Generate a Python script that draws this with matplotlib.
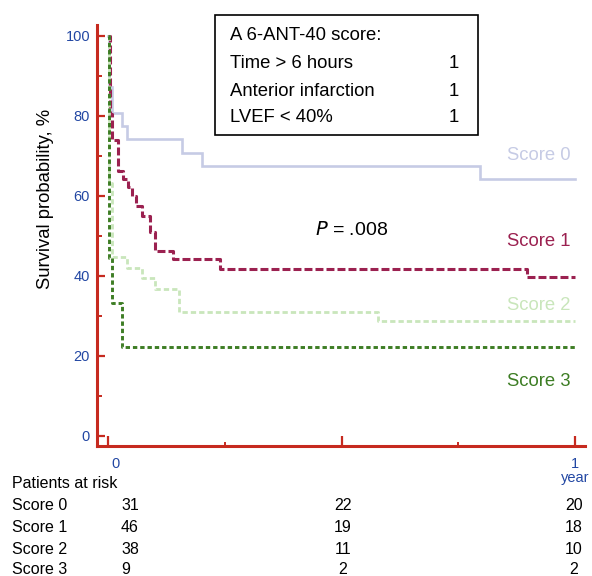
import matplotlib

matplotlib.use("Agg")
import matplotlib.pyplot as plt
from matplotlib.patches import Rectangle
from matplotlib.ticker import MultipleLocator, FixedLocator
import matplotlib.transforms as mtransforms

plt.rcParams["font.family"] = ["Liberation Sans", "DejaVu Sans"]

# Kaplan-Meier step curves (time in years, survival in %)
score0_t = [0, 0.003, 0.008, 0.029, 0.040, 0.159, 0.202, 0.797, 1.0]
score0_s = [100, 87.1, 80.6, 77.4, 74.2, 70.8, 67.4, 64.2, 64.2]

score1_t = [0, 0.004, 0.008, 0.022, 0.033, 0.042, 0.051, 0.061, 0.072,
            0.090, 0.101, 0.140, 0.240, 0.897, 1.0]
score1_s = [100, 80.4, 73.9, 66.3, 64.2, 62.1, 60.0, 57.5, 55.0,
            50.9, 46.3, 44.3, 41.8, 39.8, 39.8]

score2_t = [0, 0.003, 0.008, 0.040, 0.072, 0.101, 0.151, 0.579, 1.0]
score2_s = [100, 63.2, 44.7, 42.1, 39.5, 36.8, 31.0, 28.7, 28.7]

score3_t = [0, 0.003, 0.009, 0.029, 1.0]
score3_s = [100, 44.4, 33.3, 22.2, 22.2]

group_names = ["Score 0", "Score 1", "Score 2", "Score 3"]
risk_start = [31, 46, 38, 9]
risk_half = [22, 19, 11, 2]
risk_end = [20, 18, 10, 2]

legend_rows = [("Time > 6 hours", "1"), ("Anterior infarction", "1"), ("LVEF < 40%", "1")]

RED = "#c62a1f"
BLUE = "#2247a3"
C0 = "#c6cbe5"
C1 = "#9b2150"
C2 = "#c9e6bb"
C3 = "#3d7d24"

W, H = 592, 576
fig = plt.figure(figsize=(W / 100, H / 100), dpi=100)
ax = fig.add_axes([97 / W, 1 - 446 / H, (585 - 97) / W, (446 - 25) / H])

ax.step(score0_t, score0_s, where="post", color=C0, lw=1.9, solid_joinstyle="miter")
ax.step(score1_t, score1_s, where="post", color=C1, lw=2.2, linestyle=(0, (2.6, 1.0)))
ax.step(score2_t, score2_s, where="post", color=C2, lw=2.0, linestyle=(0, (1.9, 1.1)))
ax.step(score3_t, score3_s, where="post", color=C3, lw=2.1, linestyle=(0, (1.5, 1.0)))

ax.set_xlim((97 - 108) / 467, (585 - 108) / 467)
ax.set_ylim(-2.5, 102.7)

for side in ["top", "right"]:
    ax.spines[side].set_visible(False)
for side in ["left", "bottom"]:
    ax.spines[side].set_color(RED)
    ax.spines[side].set_linewidth(2.2)

ax.yaxis.set_major_locator(MultipleLocator(20))
ax.yaxis.set_minor_locator(MultipleLocator(10))
ax.tick_params(axis="y", which="major", direction="in", length=6, width=1.6,
               color=RED, labelcolor=BLUE, labelsize=10.5, pad=5)
ax.tick_params(axis="y", which="minor", direction="in", length=3.5, width=1.4, color=RED)

ax.xaxis.set_major_locator(FixedLocator([0, 0.5, 1]))
ax.xaxis.set_minor_locator(FixedLocator([0.25, 0.75]))
ax.set_xticklabels(["0", "", "1\nyear"], linespacing=0.95)
ax.tick_params(axis="x", which="major", direction="in", length=7, width=1.6,
               color=RED, labelcolor=BLUE, labelsize=10.5, pad=8)
ax.tick_params(axis="x", which="minor", direction="in", length=3, width=1.4, color=RED)
first = ax.get_xticklabels()[0]
first.set_transform(first.get_transform() + mtransforms.ScaledTranslation(0.07, 0, fig.dpi_scale_trans))

fig.text(46 / W, 1 - 199 / H, "Survival probability, %", rotation=90,
         ha="center", va="center", fontsize=13.3)

# curve labels
label_pos = [(70.2, C0), (48.7, C1), (32.5, C2), (13.5, C3)]
for name, (yy, col) in zip(group_names, label_pos):
    ax.text(0.99, yy, name, color=col, ha="right", va="center", fontsize=13.3)

ax.text(0.443, 51.5, r"$\it{P}$ = .008", ha="left", va="center", fontsize=14)

# score definition box
fig.add_artist(Rectangle((215 / W, 1 - 135 / H), 263 / W, 120 / H, transform=fig.transFigure,
                         facecolor="white", edgecolor="black", lw=1.2, zorder=3))
fig.text(230 / W, 1 - 35 / H, "A 6-ANT-40 score:", ha="left", va="center", fontsize=13.3, zorder=4)
for i, (lbl, pts) in enumerate(legend_rows):
    yy = 1 - [64, 92, 117][i] / H
    fig.text(230 / W, yy, lbl, ha="left", va="center", fontsize=13.3, zorder=4)
    fig.text(459 / W, yy, pts, ha="right", va="center", fontsize=13.3, zorder=4)

# patients at risk table
fig.text(12 / W, 1 - 484 / H, "Patients at risk", ha="left", va="center", fontsize=11.5)
for i, name in enumerate(group_names):
    yy = 1 - [506, 528, 549, 570][i] / H
    fig.text(12 / W, yy, name, ha="left", va="center", fontsize=11.5)
    fig.text(121 / W, yy, str(risk_start[i]), ha="left", va="center", fontsize=11.5)
    fig.text(343 / W, yy, str(risk_half[i]), ha="center", va="center", fontsize=11.5)
    fig.text(574 / W, yy, str(risk_end[i]), ha="center", va="center", fontsize=11.5)

fig.savefig("out.png", dpi=100)
plt.close(fig)
